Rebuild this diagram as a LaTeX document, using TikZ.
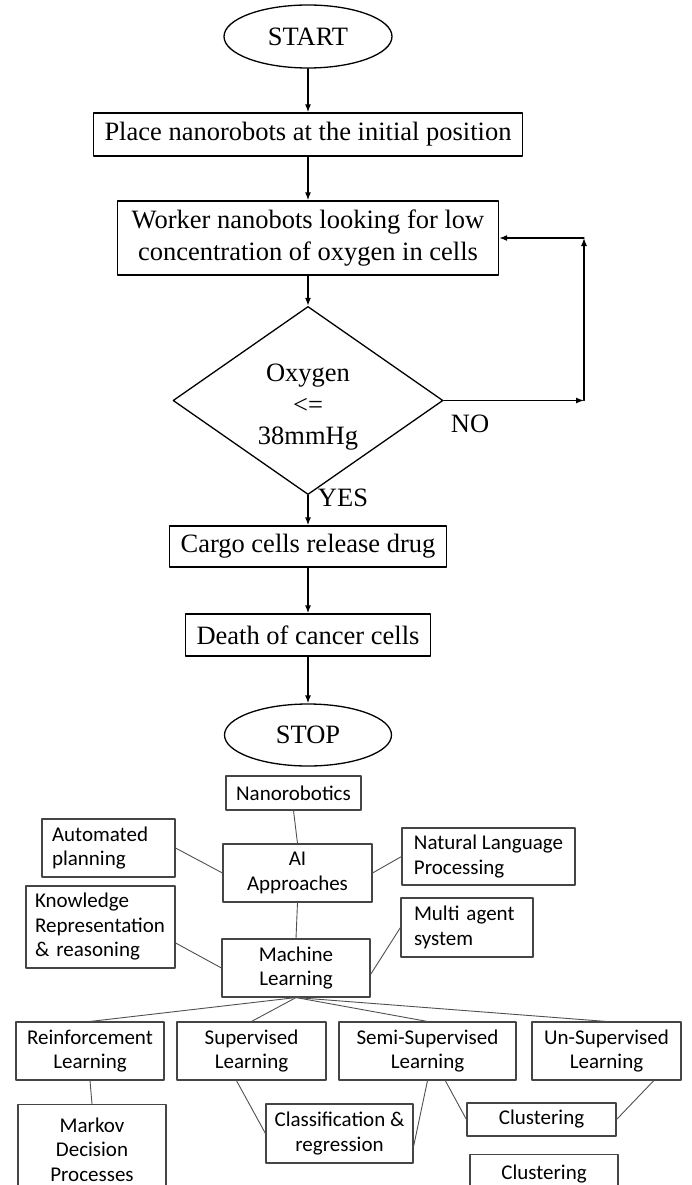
\documentclass[tikz,border=0pt]{standalone}
\usepackage{fontspec}
\setmainfont{Liberation Serif}
\newfontfamily\calfont{Carlito}
\usepackage{xcolor}
\usetikzlibrary{arrows.meta,shapes.geometric}
\definecolor{aiLine}{HTML}{454545}
\definecolor{aiLink}{HTML}{505050}
\tikzset{
  nb diagram/.style={x=1pt, y=-1pt, line cap=round, line join=round},
  nb text/.style={font=\fontsize{26.5}{31.5}\selectfont},
  nb box/.style={nb text, draw=black, line width=1.3pt, inner sep=0pt, align=center},
  nb term/.style={nb box, ellipse},
  nb decision/.style={nb box, diamond},
  nb arrow/.style={-{Latex[length=8pt,width=6pt]}, line width=1.3pt},
  ai text/.style={font=\calfont\fontsize{21}{24.5}\selectfont},
  ai box/.style={ai text, draw=aiLine, line width=1.1pt, inner sep=0pt, align=center},
  ai side/.style={ai box, align=left, inner xsep=10pt},
  ai link/.style={draw=aiLink, line width=0.9pt}
}

\begin{document}
\begin{tikzpicture}[nb diagram]
\useasboundingbox (0,0) rectangle (692,1185);
\clip (0,0) rectangle (692,1185);
\node[nb term, minimum width=168pt, minimum height=63pt] (start) at (308,36.5) {START};
\node[nb box, minimum width=429pt, minimum height=43pt] (place) at (308,134.5) {Place nanorobots at the initial position};
\node[nb box, minimum width=381pt, minimum height=74pt] (worker) at (308,238) {Worker nanobots looking for low\\concentration of oxygen in cells};
\node[nb decision, minimum width=270pt, minimum height=157pt, text height=88pt, text depth=0pt] (oxy) at (308,400.5) {Oxygen\\<=\\38mmHg};
\node[nb box, minimum width=277pt, minimum height=41pt] (cargo) at (308,546.5) {Cargo cells release drug};
\node[nb box, minimum width=245pt, minimum height=42pt] (death) at (308,635) {Death of cancer cells};
\node[nb term, minimum width=167pt, minimum height=62pt] (stop) at (308,735) {STOP};
\node[nb text] (nolabel) at (470,424) {NO};
\node[nb text] (yeslabel) at (343,498) {YES};
\coordinate (noturn) at (584,400.5);
\coordinate (backturn) at (584,238);
\draw[nb arrow] (start) -- (place);
\draw[nb arrow] (place) -- (worker);
\draw[nb arrow] (worker) -- (oxy);
\draw[nb arrow] (oxy) -- (cargo);
\draw[nb arrow] (cargo) -- (death);
\draw[nb arrow] (death) -- (stop);
\draw[nb arrow] (oxy.east) -- (noturn);
\draw[nb arrow] (noturn) -- (backturn);
\draw[nb arrow] (backturn) -- (worker.east);

\node[ai box, minimum width=135pt, minimum height=34pt] (nano) at (293.5,793) {Nanorobotics};
\node[ai box, minimum width=149pt, minimum height=58pt] (aiap) at (297.5,873) {AI\\Approaches};
\node[ai box, minimum width=148pt, minimum height=58pt] (ml) at (296,968) {Machine\\Learning};
\node[ai side, text width=113pt, minimum height=58pt] (auto) at (108.5,848) {Automated\\planning};
\node[ai side, inner xsep=9pt, text width=131pt, minimum height=82pt] (know) at (100.5,927) {Knowledge\\Representation\\\& reasoning};
\node[ai side, minimum width=173pt, minimum height=57pt] (nlp) at (488.5,856.5) {Natural Language\\Processing};
\node[ai side, inner xsep=13pt, text width=106pt, minimum height=59pt] (mas) at (467,927.5) {Multi agent\\system};
\draw[ai link] (nano.south) -- (aiap.north);
\draw[ai link] (aiap.south) -- (ml.north);
\draw[ai link] (auto.east) -- (aiap.west);
\draw[ai link] (aiap.east) -- (nlp.west);
\draw[ai link] (know.-12) -- (ml.west);
\draw[ai link] (ml.-5) -- (mas.west);
\foreach \name/\x/\w/\txt in {reinf/90/148/{Reinforcement\\Learning},sup/251.5/149/{Supervised\\Learning},semi/427.5/177/{Semi-Supervised\\Learning},unsup/606.5/149/{Un-Supervised\\Learning}}{
  \node[ai box, minimum width=\w pt, minimum height=58pt] (\name) at (\x,1051) {\txt};
  \draw[ai link] (ml.south) -- (\name.north);
}
\node[ai box, anchor=north, minimum width=148pt, minimum height=90pt] (markov) at (92,1104) {Markov\\Decision\\Processes};
\node[ai box, minimum width=147pt, minimum height=59pt] (cls) at (339.5,1133.5) {Classification \&\\regression};
\node[ai box, minimum width=149pt, minimum height=33pt] (clu) at (541.5,1119.5) {Clustering};
\node[ai box, anchor=north, minimum width=148pt, minimum height=38pt] (clutwo) at (544,1154) {Clustering};
\draw[ai link] (reinf.south) -- (markov.north);
\draw[ai link] (sup.-117) -- (cls.west);
\draw[ai link] (semi.south) -- (cls.-10);
\draw[ai link] (semi.-59) -- (clu.west);
\draw[ai link] (unsup.-32.5) -- (clu.east);
\end{tikzpicture}
\end{document}
